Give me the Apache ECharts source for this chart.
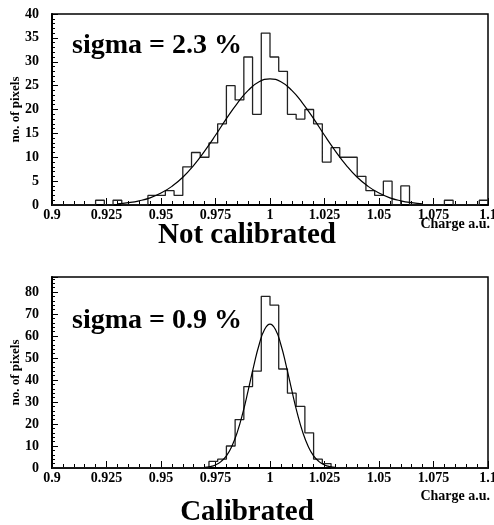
<!DOCTYPE html>
<html>
<head>
<meta charset="utf-8">
<script src="https://cdn.jsdelivr.net/npm/echarts@6/dist/echarts.min.js"></script>
<style>
  html, body { margin: 0; padding: 0; background: #fff; }
  #main { width: 494px; height: 525px; }
</style>
</head>
<body>
<div id="main"></div>
<script>
// histogram binning (50 bins between 0.9 and 1.1)
var binStart = 0.9;
var binWidth = 0.004;

// counts per bin, not calibrated
var uncalCounts = [0, 0, 0, 0, 0, 1, 0, 1, 0, 0,
                   0, 2, 2, 3, 2, 8, 11, 10, 13, 17,
                   25, 22, 31, 19, 36, 31, 28, 19, 18, 20,
                   17, 9, 12, 10, 10, 6, 3, 2, 5, 0,
                   4, 0, 0, 0, 0, 1, 0, 0, 0, 1];
// counts per bin, calibrated
var calCounts = [0, 0, 0, 0, 0, 0, 0, 0, 0, 0,
                 0, 0, 0, 0, 0, 0, 0, 0, 3, 4,
                 10, 22, 37, 44, 78, 74, 45, 34, 28, 16,
                 4, 2, 0, 0, 0, 0, 0, 0, 0, 0,
                 0, 0, 0, 0, 0, 0, 0, 0, 0, 0];

// gauss fit curves
var uncalFitX = [0.93, 0.935, 0.94, 0.945, 0.95, 0.955, 0.96, 0.965, 0.97, 0.975,
                 0.98, 0.985, 0.99, 0.995, 1.0, 1.005, 1.01, 1.015, 1.02, 1.025,
                 1.03, 1.035, 1.04, 1.045, 1.05, 1.055, 1.06, 1.065, 1.07];
var uncalFitY = [0.26, 0.49, 0.88, 1.5, 2.5, 3.9, 5.8, 8.3, 11.3, 14.6,
                 18.1, 21.3, 24.0, 25.8, 26.4, 25.8, 24.0, 21.3, 18.1, 14.6,
                 11.3, 8.3, 5.8, 3.9, 2.5, 1.5, 0.88, 0.49, 0.26];
var calFitX = [0.97, 0.9725, 0.975, 0.9775, 0.98, 0.9825, 0.985, 0.9875, 0.99, 0.9925,
               0.995, 0.9975, 1.0, 1.0025, 1.005, 1.0075, 1.01, 1.0125, 1.015, 1.0175,
               1.02, 1.0225, 1.025, 1.0275, 1.03];
var calFitY = [0.25, 0.6, 1.4, 2.9, 5.5, 9.9, 16.3, 24.9, 35.3, 46.2,
               56.0, 62.9, 65.4, 62.9, 56.0, 46.2, 35.3, 24.9, 16.3, 9.9,
               5.5, 2.9, 1.4, 0.6, 0.25];

var xTickStep = 0.025;
var FONT = 'Liberation Serif';

// bin outline as step line points
function histPoints(counts) {
  var pts = [];
  for (var k = 0; k < counts.length; k++) {
    pts.push([+(binStart + k * binWidth).toFixed(4), counts[k]]);
  }
  pts.push([+(binStart + counts.length * binWidth).toFixed(4), counts[counts.length - 1]]);
  return pts;
}
function zip(xs, ys) {
  return xs.map(function (x, i) { return [x, ys[i]]; });
}

var lbl = { color: '#000', fontFamily: FONT, fontWeight: 'bold', fontSize: 14 };

function xAxisOpt(idx) {
  return {
    gridIndex: idx, type: 'value', min: 0.9, max: 1.1, interval: xTickStep,
    axisLine: { lineStyle: { color: '#000', width: 2 } },
    axisTick: { inside: true, length: 7, lineStyle: { color: '#000', width: 1 } },
    minorTick: { show: true, splitNumber: 5, length: 4, lineStyle: { color: '#000', width: 1 } },
    axisLabel: Object.assign({ margin: 3, formatter: function (v) { return +v.toFixed(3) + ''; } }, lbl),
    splitLine: { show: false }
  };
}
function yAxisOpt(idx, max, step, minorSplit) {
  return {
    gridIndex: idx, type: 'value', min: 0, max: max, interval: step,
    name: 'no. of pixels', nameLocation: 'middle', nameGap: 30, nameMoveOverlap: false,
    nameTextStyle: { color: '#000', fontFamily: FONT, fontWeight: 'bold', fontSize: 13 },
    axisLine: { show: true, lineStyle: { color: '#000', width: 2 } },
    axisTick: { inside: true, length: 6, lineStyle: { color: '#000', width: 1 } },
    minorTick: { show: true, splitNumber: minorSplit, length: 3, lineStyle: { color: '#000', width: 1 } },
    axisLabel: Object.assign({ margin: 13, showMaxLabel: max % step === 0 }, lbl),
    splitLine: { show: false }
  };
}

var chart = echarts.init(document.getElementById('main'), null, { renderer: 'canvas' });
chart.setOption({
  animation: false,
  backgroundColor: '#fff',
  grid: [
    { left: 52, top: 14, width: 436, height: 191, outerBoundsMode: 'none', containLabel: false,
      show: true, borderColor: '#000', borderWidth: 1.5 },
    { left: 52, top: 277, width: 436, height: 191, outerBoundsMode: 'none', containLabel: false,
      show: true, borderColor: '#000', borderWidth: 1.5 }
  ],
  xAxis: [xAxisOpt(0), xAxisOpt(1)],
  yAxis: [yAxisOpt(0, 40, 5, 5), yAxisOpt(1, 86.8, 10, 5)],
  series: [
    { type: 'line', xAxisIndex: 0, yAxisIndex: 0, step: 'end', showSymbol: false,
      lineStyle: { color: '#222', width: 1.3 }, data: histPoints(uncalCounts) },
    { type: 'line', xAxisIndex: 0, yAxisIndex: 0, smooth: true, showSymbol: false,
      lineStyle: { color: '#000', width: 1.2 }, data: zip(uncalFitX, uncalFitY) },
    { type: 'line', xAxisIndex: 1, yAxisIndex: 1, step: 'end', showSymbol: false,
      lineStyle: { color: '#222', width: 1.3 }, data: histPoints(calCounts) },
    { type: 'line', xAxisIndex: 1, yAxisIndex: 1, smooth: true, showSymbol: false,
      lineStyle: { color: '#000', width: 1.2 }, data: zip(calFitX, calFitY) }
  ],
  graphic: [
    { type: 'text', left: 72, top: 32, style: { text: 'sigma = 2.3 %', fill: '#000', font: 'bold 28px "Liberation Serif"' } },
    { type: 'text', left: 72, top: 307, style: { text: 'sigma = 0.9 %', fill: '#000', font: 'bold 28px "Liberation Serif"' } },
    { type: 'text', right: 4, top: 217, style: { text: 'Charge a.u.', fill: '#000', font: 'bold 14px "Liberation Serif"' } },
    { type: 'text', right: 4, top: 489, style: { text: 'Charge a.u.', fill: '#000', font: 'bold 14px "Liberation Serif"' } },
    { type: 'text', left: 'center', top: 221, style: { text: 'Not calibrated', fill: '#000', font: 'bold 29px "Liberation Serif"' } },
    { type: 'text', left: 'center', top: 498, style: { text: 'Calibrated', fill: '#000', font: 'bold 29px "Liberation Serif"' } }
  ]
});
</script>
</body>
</html>
